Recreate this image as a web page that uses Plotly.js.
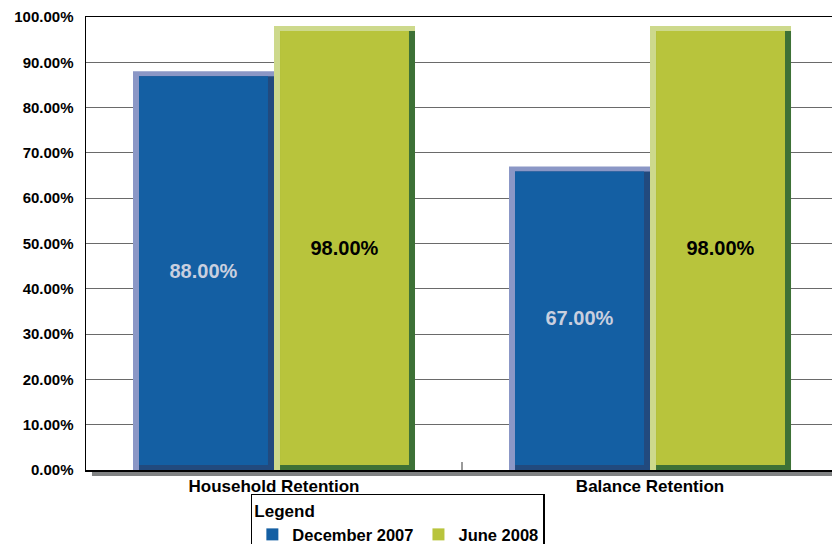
<!DOCTYPE html>
<html>
<head>
<meta charset="utf-8">
<script src="https://cdn.plot.ly/plotly-3.0.1.min.js"></script>
<style>
html,body{margin:0;padding:0;background:#fff;}
#chart{width:832px;height:544px;}
</style>
</head>
<body>
<div id="chart"></div>
<script>
// ---- data ----
const categories = ['Household Retention', 'Balance Retention'];
const seriesNames = ['December 2007', 'June 2008'];
const dec2007 = [0.88, 0.67];
const jun2008 = [0.98, 0.98];
const yTickVals = [0, 0.1, 0.2, 0.3, 0.4, 0.5, 0.6, 0.7, 0.8, 0.9, 1.0];

// ---- styling ----
const FONT = 'Liberation Sans, Arial, Helvetica, sans-serif';
const barW = 0.375;     // width of each bar in category units
const edgeX = 0.016;    // bevel width (x units)
const edgeY = 0.011;    // bevel height (y units)

function bevelTraces(values, offset, cols, name, textColor, showLegend) {
  const light = {
    type: 'bar', x: categories, y: values, base: 0,
    offset: offset, width: barW,
    marker: {color: cols.light, line: {width: 0}},
    showlegend: false, hoverinfo: 'skip'
  };
  const dark = {
    type: 'bar', x: categories, y: values.map(v => v - edgeY), base: 0,
    offset: offset + edgeX, width: barW - edgeX,
    marker: {color: cols.dark, line: {width: 0}},
    showlegend: false, hoverinfo: 'skip'
  };
  const main = {
    type: 'bar', name: name, x: categories,
    y: values.map(v => v - 2 * edgeY), base: edgeY,
    offset: offset + edgeX, width: barW - 2 * edgeX,
    marker: {color: cols.main, line: {width: 0}},
    text: values.map(v => (v * 100).toFixed(2) + '%'),
    textposition: 'inside', insidetextanchor: 'middle', textangle: 0,
    constraintext: 'none',
    textfont: {family: FONT, size: 20, color: textColor, weight: 'bold'},
    showlegend: showLegend, hoverinfo: 'skip'
  };
  return [light, dark, main];
}

const traces = [].concat(
  bevelTraces(dec2007, -barW, {light: '#8b97c6', main: '#145fa3', dark: '#224a7e'}, seriesNames[0], '#c9cfdf', true),
  bevelTraces(jun2008, 0, {light: '#cdd98c', main: '#b8c43c', dark: '#3d7136'}, seriesNames[1], '#000000', true)
);

const layout = {
  width: 832, height: 544,
  margin: {l: 86, r: 0, t: 17, b: 74, autoexpand: false},
  paper_bgcolor: '#ffffff', plot_bgcolor: '#ffffff',
  barmode: 'overlay',
  showlegend: true,
  font: {family: FONT, color: '#000'},
  xaxis: {
    type: 'category', range: [-0.5, 1.484],
    showline: true, linecolor: '#000', linewidth: 1.5, mirror: true,
    showgrid: false, zeroline: false,
    ticks: 'inside', ticklen: 8, tickcolor: '#9a9a9a', tickwidth: 1.5,
    tickson: 'boundaries',
    tickfont: {family: FONT, size: 17, color: '#000', weight: 'bold'},
    ticklabelstandoff: 0,
    fixedrange: true
  },
  yaxis: {
    range: [0, 1], tickvals: yTickVals, tickformat: '.2%',
    showline: true, linecolor: '#000', linewidth: 1.5,
    showgrid: true, gridcolor: '#6a6a6a', gridwidth: 1,
    zeroline: false, ticks: '',
    ticklabelstandoff: 8,
    tickfont: {family: FONT, size: 15, color: '#000', weight: 'bold'},
    fixedrange: true
  },
  legend: {
    orientation: 'h', x: 0.221, xanchor: 'left', y: -0.052, yanchor: 'top',
    bgcolor: 'rgba(255,255,255,0)', bordercolor: '#000', borderwidth: 1.5,
    title: {text: 'Legend', side: 'top', font: {family: FONT, size: 17, color: '#000', weight: 'bold'}},
    font: {family: FONT, size: 16.5, color: '#000', weight: 'bold'},
    itemwidth: 30, traceorder: 'normal'
  },
  shapes: [
    {type: 'rect', xref: 'paper', yref: 'paper', x0: 0.008, x1: 1, y0: -0.003, y1: -0.0135,
     fillcolor: '#808283', line: {width: 0}, layer: 'below'}
  ]
};

Plotly.newPlot('chart', traces, layout, {staticPlot: true, displayModeBar: false});
</script>
</body>
</html>
